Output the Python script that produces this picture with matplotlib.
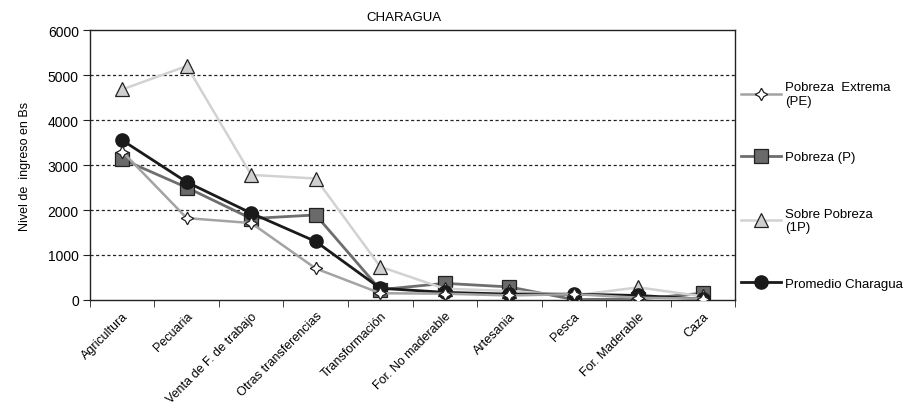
import matplotlib
matplotlib.use("Agg")
import matplotlib.pyplot as plt
from matplotlib.transforms import ScaledTranslation
import numpy as np

plt.rcParams['font.family'] = ['Liberation Sans', 'DejaVu Sans']

# datos
categorias = ['Agricultura', 'Pecuaria', 'Venta de F. de trabajo', 'Otras transferencias',
              'Transformación', 'For. No maderable', 'Artesania', 'Pesca',
              'For. Maderable', 'Caza']
pobreza_extrema = [3300, 1820, 1710, 700, 150, 140, 100, 130, 50, 30]
pobreza = [3130, 2500, 1810, 1890, 230, 370, 290, 10, 20, 150]
sobre_pobreza = [4680, 5200, 2780, 2700, 740, 250, 200, 100, 280, 80]
promedio = [3550, 2620, 1930, 1300, 260, 170, 130, 130, 100, 20]

fig = plt.figure(figsize=(9.08, 4.14), dpi=100)
ax = fig.add_axes([0.0991, 0.273, 0.7104, 0.652])

x = np.arange(len(categorias))

ax.plot(x, pobreza, color='#6e6e6e', lw=2.0, marker='s', ms=9.5,
        mfc='#6a6a6a', mec='#222222', mew=0.9, zorder=3, label='Pobreza (P)')
ax.plot(x, sobre_pobreza, color='#d2d2d2', lw=1.8, marker='^', ms=10.5,
        mfc='#cfcfcf', mec='#222222', mew=0.9, zorder=4, label='Sobre Pobreza\n(1P)')
ax.plot(x, promedio, color='#1a1a1a', lw=2.0, marker='o', ms=9.5,
        mfc='#1a1a1a', mec='#1a1a1a', zorder=5, label='Promedio Charagua')
ax.plot(x, pobreza_extrema, color='#a3a3a3', lw=1.8, marker=(4, 1, 0), ms=9,
        mfc='white', mec='#222222', mew=0.9, zorder=6, label='Pobreza  Extrema\n(PE)')

ax.set_xlim(-0.5, len(categorias) - 0.5)
ax.set_ylim(0, 6000)
ax.set_yticks(range(0, 7000, 1000))
ax.set_xticks(x)
ax.set_xticklabels(categorias, rotation=45, ha='right', rotation_mode='anchor', fontsize=9)
desplaz = ScaledTranslation(-7 / 72, 0, fig.dpi_scale_trans)
for lbl in ax.get_xticklabels():
    lbl.set_transform(lbl.get_transform() + desplaz)
ax.set_xticks(np.arange(-0.5, len(categorias), 1), minor=True)
ax.tick_params(axis='x', which='major', length=0, pad=7)
ax.tick_params(axis='x', which='minor', length=5, direction='out', color='#222222')
ax.tick_params(axis='y', length=5, direction='out', labelsize=10, color='#222222', pad=3)

for v in range(1000, 6000, 1000):
    ax.axhline(v, color='#222222', lw=0.9, ls=(0, (2.5, 2)), zorder=1)

for s in ax.spines.values():
    s.set_color('#222222')
    s.set_linewidth(1.0)

ax.set_title('CHARAGUA', fontsize=9.5, pad=7, x=0.487)
ax.set_ylabel('Nivel de  ingreso en Bs', fontsize=9, labelpad=12)

h, l = ax.get_legend_handles_labels()
orden = [3, 0, 1, 2]
ax.legend([h[i] for i in orden], [l[i] for i in orden], loc='upper left',
          bbox_to_anchor=(0.995, 0.845), frameon=False, fontsize=9.5,
          handlelength=3.0, handletextpad=0.35, labelspacing=3.35, borderaxespad=0.3)

fig.savefig('out.png', dpi=100)
